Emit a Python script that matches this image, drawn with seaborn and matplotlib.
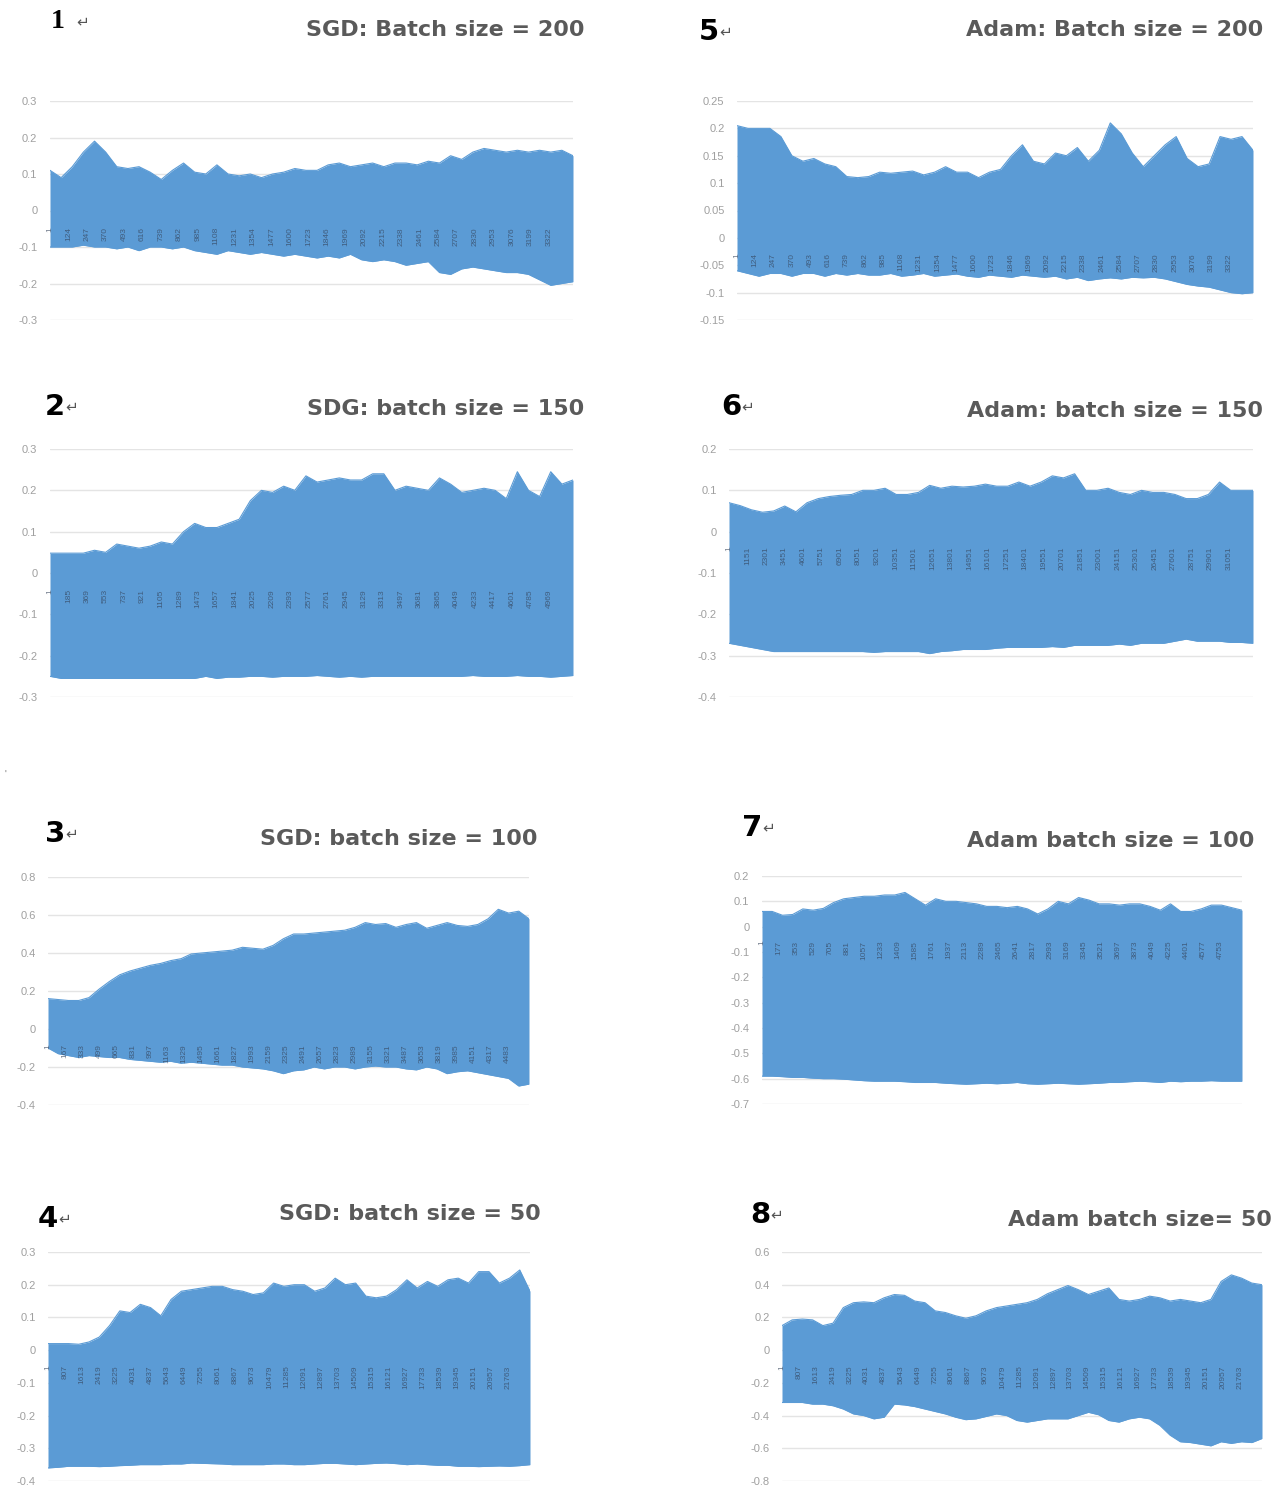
import numpy as np
import pandas as pd
import matplotlib
matplotlib.use("Agg")
import matplotlib.pyplot as plt
from matplotlib.ticker import FuncFormatter
import seaborn as sns

sns.set_theme(style="white")
plt.rcParams["font.family"] = ["Liberation Sans", "DejaVu Sans"]

W, H = 1279, 1487
BLUE = "#5b9bd5"

# upper / lower envelope of each (very dense) loss-difference series
sgd200_upper = [0.11, 0.09, 0.12, 0.16, 0.19, 0.16, 0.12, 0.115, 0.12, 0.105, 0.085, 0.11,
                0.13, 0.105, 0.10, 0.125, 0.10, 0.095, 0.10, 0.09, 0.10, 0.105, 0.115, 0.11,
                0.11, 0.125, 0.13, 0.12, 0.125, 0.13, 0.12, 0.13, 0.13, 0.125, 0.135, 0.13,
                0.15, 0.14, 0.16, 0.17, 0.165, 0.16, 0.165, 0.16, 0.165, 0.16, 0.165, 0.15]
sgd200_lower = [-0.10, -0.10, -0.10, -0.095, -0.10, -0.10, -0.105, -0.10, -0.11, -0.10, -0.10, -0.105,
                -0.10, -0.11, -0.115, -0.12, -0.11, -0.115, -0.12, -0.115, -0.12, -0.125, -0.12, -0.125,
                -0.13, -0.125, -0.13, -0.12, -0.135, -0.14, -0.135, -0.14, -0.15, -0.145, -0.14, -0.17,
                -0.175, -0.16, -0.155, -0.16, -0.165, -0.17, -0.17, -0.175, -0.19, -0.205, -0.20, -0.195]

sgd150_upper = [0.048, 0.048, 0.048, 0.048, 0.055, 0.05, 0.07, 0.065, 0.06, 0.065, 0.075, 0.07,
                0.10, 0.12, 0.11, 0.11, 0.12, 0.13, 0.175, 0.20, 0.195, 0.21, 0.20, 0.235,
                0.22, 0.225, 0.23, 0.225, 0.225, 0.24, 0.24, 0.20, 0.21, 0.205, 0.20, 0.23,
                0.215, 0.195, 0.20, 0.205, 0.20, 0.18, 0.245, 0.20, 0.185, 0.245, 0.215, 0.225]
sgd150_lower = [-0.25, -0.255, -0.255, -0.255, -0.255, -0.255, -0.255, -0.255, -0.255, -0.255, -0.255, -0.255,
                -0.255, -0.255, -0.25, -0.255, -0.252, -0.252, -0.25, -0.25, -0.252, -0.25, -0.25, -0.25,
                -0.248, -0.25, -0.252, -0.25, -0.252, -0.25, -0.25, -0.25, -0.25, -0.25, -0.25, -0.25,
                -0.25, -0.25, -0.248, -0.25, -0.25, -0.25, -0.248, -0.25, -0.25, -0.252, -0.25, -0.248]

sgd100_upper = [0.16, 0.155, 0.15, 0.15, 0.165, 0.21, 0.25, 0.285, 0.305, 0.32, 0.335, 0.345,
                0.36, 0.37, 0.395, 0.40, 0.405, 0.41, 0.415, 0.43, 0.425, 0.42, 0.44, 0.475,
                0.50, 0.50, 0.505, 0.51, 0.515, 0.52, 0.535, 0.56, 0.55, 0.555, 0.535, 0.55,
                0.56, 0.53, 0.545, 0.56, 0.545, 0.54, 0.55, 0.58, 0.63, 0.61, 0.62, 0.58]
sgd100_lower = [-0.10, -0.13, -0.14, -0.15, -0.14, -0.145, -0.15, -0.15, -0.16, -0.165, -0.17, -0.175,
                -0.17, -0.18, -0.175, -0.18, -0.185, -0.19, -0.19, -0.20, -0.205, -0.21, -0.22, -0.235,
                -0.22, -0.215, -0.20, -0.21, -0.20, -0.20, -0.21, -0.20, -0.195, -0.20, -0.20, -0.21,
                -0.215, -0.20, -0.21, -0.235, -0.225, -0.22, -0.23, -0.24, -0.25, -0.26, -0.30, -0.29]

sgd50_upper = [0.02, 0.02, 0.02, 0.018, 0.025, 0.04, 0.075, 0.12, 0.115, 0.14, 0.13, 0.105,
               0.155, 0.18, 0.185, 0.19, 0.195, 0.195, 0.185, 0.18, 0.17, 0.175, 0.205, 0.195,
               0.20, 0.20, 0.18, 0.19, 0.22, 0.20, 0.205, 0.165, 0.16, 0.165, 0.185, 0.215,
               0.19, 0.21, 0.195, 0.215, 0.22, 0.205, 0.24, 0.24, 0.205, 0.22, 0.245, 0.18]
sgd50_lower = [-0.36, -0.358, -0.355, -0.355, -0.355, -0.356, -0.355, -0.353, -0.352, -0.35, -0.35, -0.35,
               -0.348, -0.348, -0.345, -0.346, -0.347, -0.348, -0.35, -0.35, -0.35, -0.35, -0.348, -0.348,
               -0.35, -0.35, -0.348, -0.346, -0.346, -0.348, -0.35, -0.348, -0.346, -0.345, -0.347, -0.35,
               -0.348, -0.35, -0.352, -0.352, -0.355, -0.355, -0.356, -0.355, -0.354, -0.355, -0.353, -0.35]

adam200_upper = [0.205, 0.20, 0.20, 0.20, 0.185, 0.15, 0.14, 0.145, 0.135, 0.13, 0.112, 0.11,
                 0.112, 0.12, 0.118, 0.12, 0.122, 0.115, 0.12, 0.13, 0.12, 0.12, 0.11, 0.12,
                 0.125, 0.15, 0.17, 0.14, 0.135, 0.155, 0.15, 0.165, 0.14, 0.16, 0.21, 0.19,
                 0.155, 0.13, 0.15, 0.17, 0.185, 0.145, 0.13, 0.135, 0.185, 0.18, 0.185, 0.16]
adam200_lower = [-0.06, -0.065, -0.07, -0.065, -0.065, -0.07, -0.065, -0.065, -0.07, -0.065, -0.068, -0.065,
                 -0.068, -0.068, -0.065, -0.07, -0.068, -0.065, -0.07, -0.068, -0.066, -0.07, -0.072, -0.068,
                 -0.07, -0.072, -0.068, -0.07, -0.072, -0.07, -0.075, -0.072, -0.078, -0.075, -0.073, -0.075,
                 -0.072, -0.073, -0.072, -0.075, -0.08, -0.085, -0.088, -0.09, -0.095, -0.10, -0.102, -0.10]

adam150_upper = [0.07, 0.063, 0.053, 0.047, 0.05, 0.062, 0.048, 0.07, 0.08, 0.085, 0.088, 0.09,
                 0.10, 0.10, 0.105, 0.09, 0.09, 0.095, 0.112, 0.105, 0.11, 0.108, 0.11, 0.115,
                 0.11, 0.11, 0.12, 0.11, 0.12, 0.135, 0.13, 0.14, 0.10, 0.10, 0.105, 0.095,
                 0.09, 0.10, 0.095, 0.095, 0.09, 0.08, 0.08, 0.09, 0.12, 0.10, 0.10, 0.10]
adam150_lower = [-0.27, -0.275, -0.28, -0.285, -0.29, -0.29, -0.29, -0.29, -0.29, -0.29, -0.29, -0.29,
                 -0.29, -0.292, -0.29, -0.29, -0.29, -0.29, -0.295, -0.29, -0.288, -0.285, -0.285, -0.285,
                 -0.282, -0.28, -0.28, -0.28, -0.28, -0.278, -0.28, -0.275, -0.275, -0.275, -0.275, -0.272,
                 -0.275, -0.27, -0.27, -0.27, -0.265, -0.26, -0.265, -0.265, -0.265, -0.268, -0.268, -0.27]

adam100_upper = [0.06, 0.06, 0.045, 0.048, 0.07, 0.065, 0.072, 0.095, 0.11, 0.115, 0.12, 0.12,
                 0.125, 0.125, 0.135, 0.11, 0.085, 0.11, 0.10, 0.10, 0.095, 0.09, 0.08, 0.08,
                 0.075, 0.08, 0.07, 0.05, 0.07, 0.10, 0.09, 0.115, 0.105, 0.09, 0.09, 0.085,
                 0.09, 0.09, 0.08, 0.065, 0.09, 0.06, 0.06, 0.07, 0.085, 0.085, 0.075, 0.065]
adam100_lower = [-0.59, -0.59, -0.592, -0.595, -0.595, -0.598, -0.60, -0.60, -0.602, -0.605, -0.608, -0.61,
                 -0.61, -0.61, -0.612, -0.615, -0.615, -0.615, -0.618, -0.62, -0.622, -0.62, -0.618, -0.62,
                 -0.618, -0.615, -0.62, -0.622, -0.62, -0.618, -0.62, -0.622, -0.62, -0.618, -0.615, -0.615,
                 -0.612, -0.61, -0.612, -0.615, -0.61, -0.612, -0.61, -0.61, -0.608, -0.61, -0.61, -0.61]

adam50_upper = [0.15, 0.185, 0.19, 0.185, 0.15, 0.165, 0.26, 0.29, 0.295, 0.29, 0.32, 0.34,
                0.335, 0.30, 0.29, 0.24, 0.23, 0.21, 0.195, 0.21, 0.24, 0.26, 0.27, 0.28,
                0.29, 0.31, 0.345, 0.37, 0.395, 0.37, 0.34, 0.36, 0.38, 0.31, 0.30, 0.31,
                0.33, 0.32, 0.30, 0.31, 0.30, 0.29, 0.31, 0.42, 0.46, 0.44, 0.41, 0.40]
adam50_lower = [-0.32, -0.32, -0.32, -0.33, -0.33, -0.34, -0.36, -0.39, -0.40, -0.42, -0.41, -0.33,
                -0.335, -0.345, -0.36, -0.375, -0.39, -0.41, -0.425, -0.42, -0.405, -0.39, -0.40, -0.43,
                -0.44, -0.43, -0.42, -0.42, -0.42, -0.40, -0.38, -0.395, -0.43, -0.44, -0.42, -0.41,
                -0.42, -0.46, -0.52, -0.56, -0.565, -0.575, -0.585, -0.56, -0.57, -0.56, -0.565, -0.54]

# y-axis ticks of each chart
sgd200_yticks = [-0.3, -0.2, -0.1, 0, 0.1, 0.2, 0.3]
sgd150_yticks = [-0.3, -0.2, -0.1, 0, 0.1, 0.2, 0.3]
sgd100_yticks = [-0.4, -0.2, 0, 0.2, 0.4, 0.6, 0.8]
sgd50_yticks = [-0.4, -0.3, -0.2, -0.1, 0, 0.1, 0.2, 0.3]
adam200_yticks = [-0.15, -0.1, -0.05, 0, 0.05, 0.1, 0.15, 0.2, 0.25]
adam150_yticks = [-0.4, -0.3, -0.2, -0.1, 0, 0.1, 0.2]
adam100_yticks = [-0.7, -0.6, -0.5, -0.4, -0.3, -0.2, -0.1, 0, 0.1, 0.2]
adam50_yticks = [-0.8, -0.6, -0.4, -0.2, 0, 0.2, 0.4, 0.6]

# category-axis label interval (iterations between shown labels)
label_steps = {"sgd200": 123, "sgd150": 184, "sgd100": 166, "sgd50": 806,
               "adam200": 123, "adam150": 1150, "adam100": 176, "adam50": 806}

# layout: plot box in px (x0, y0, x1, y1), title anchor, number anchor, axis-line level
panels = [
    dict(key="sgd200", num="1", title="SGD: Batch size = 200", up=sgd200_upper, lo=sgd200_lower,
         yt=sgd200_yticks, box=(50, 101, 573, 320), tpos=(585, 30), npos=(58, 22), axy=-0.04, serif=True),
    dict(key="sgd150", num="2", title="SDG: batch size = 150", up=sgd150_upper, lo=sgd150_lower,
         yt=sgd150_yticks, box=(50, 449, 573, 697), tpos=(584, 409), npos=(55, 407), axy=-0.034),
    dict(key="sgd100", num="3", title="SGD: batch size = 100", up=sgd100_upper, lo=sgd100_lower,
         yt=sgd100_yticks, box=(48, 877, 529, 1105), tpos=(538, 839), npos=(55, 834), axy=-0.07),
    dict(key="sgd50", num="4", title="SGD: batch size = 50", up=sgd50_upper, lo=sgd50_lower,
         yt=sgd50_yticks, box=(48, 1252, 530, 1481), tpos=(541, 1214), npos=(48, 1219), axy=-0.04),
    dict(key="adam200", num="5", title="Adam: Batch size = 200", up=adam200_upper, lo=adam200_lower,
         yt=adam200_yticks, box=(737, 101, 1253, 320), tpos=(1263, 30), npos=(709, 32), axy=-0.024),
    dict(key="adam150", num="6", title="Adam: batch size = 150", up=adam150_upper, lo=adam150_lower,
         yt=adam150_yticks, box=(729, 449, 1253, 697), tpos=(1263, 411), npos=(731, 407), axy=-0.031),
    dict(key="adam100", num="7", title="Adam batch size = 100", up=adam100_upper, lo=adam100_lower,
         yt=adam100_yticks, box=(762, 876, 1242, 1104), tpos=(1254, 841), npos=(752, 828), axy=-0.047),
    dict(key="adam50", num="8", title="Adam batch size= 50", up=adam50_upper, lo=adam50_lower,
         yt=adam50_yticks, box=(782, 1252, 1262, 1481), tpos=(1272, 1220), npos=(760, 1215), axy=-0.08),
]

fig = plt.figure(figsize=(W / 100, H / 100), dpi=100)
fig.patch.set_facecolor("white")

for p in panels:
    x0, y0, x1, y1 = p["box"]
    ax = fig.add_axes([x0 / W, 1 - y1 / H, (x1 - x0) / W, (y1 - y0) / H])
    step = label_steps[p["key"]]
    n_iter = 1 + step * 28.3
    df = pd.DataFrame({
        "iteration": np.linspace(1, n_iter, len(p["up"])),
        "upper": p["up"],
        "lower": p["lo"],
    })
    yt = p["yt"]
    # light horizontal gridlines behind the band
    for v in yt:
        ax.axhline(v, color="#e4e4e4", lw=1, zorder=0.5)
    ax.fill_between(df["iteration"], df["lower"], df["upper"], color=BLUE, lw=0, zorder=1)
    sns.lineplot(data=df, x="iteration", y="upper", color=BLUE, lw=0.8, ax=ax, zorder=1)
    sns.lineplot(data=df, x="iteration", y="lower", color=BLUE, lw=0.8, ax=ax, zorder=1)

    ax.set_xlim(1, n_iter)
    ax.set_ylim(yt[0], yt[-1])
    ax.set_yticks(yt)
    ax.yaxis.set_major_formatter(FuncFormatter(lambda v, _: f"{v:g}"))
    ax.grid(False)
    ax.set_axisbelow(False)
    for s in ["top", "right", "left"]:
        ax.spines[s].set_visible(False)
    ax.spines["bottom"].set_position(("data", p["axy"]))
    ax.spines["bottom"].set_linewidth(0)

    # category labels, printed vertically over the band as Excel does
    ticks = [1 + k * step for k in range(28)]
    ax.set_xticks(ticks)
    ax.set_xticklabels([str(t) for t in ticks], rotation=90, fontsize=6,
                       color="#34435a", alpha=0.7)
    ax.tick_params(axis="x", length=0, pad=1.5)
    ax.tick_params(axis="y", length=0, pad=9, labelsize=8, labelcolor="#a0a0a0")
    ax.set_xlabel("")
    ax.set_ylabel("")
    ax.patch.set_alpha(0)

    tx, ty = p["tpos"]
    fig.text(tx / W, 1 - ty / H, p["title"], ha="right", va="center", fontsize=16,
             fontweight="bold", family=["DejaVu Sans"], color="#5a5a5a")
    nx, ny = p["npos"]
    if p.get("serif"):
        fig.text(nx / W, 1 - ny / H, p["num"], ha="center", va="center", fontsize=20,
                 fontweight="bold", family=["Liberation Serif", "DejaVu Serif"], color="black")
        fig.text((nx + 25) / W, 1 - ny / H, "\u21b5", ha="center", va="center",
                 fontsize=11, family=["DejaVu Sans"], color="#555555")
    else:
        fig.text(nx / W, 1 - ny / H, p["num"], ha="center", va="center", fontsize=21,
                 fontweight="heavy", family=["DejaVu Sans"], color="black")
        fig.text((nx + 17) / W, 1 - ny / H, "\u21b5", ha="center", va="center",
                 fontsize=11, family=["DejaVu Sans"], color="#555555")

fig.text(5 / W, 1 - 775 / H, "'", ha="center", va="center", fontsize=7, color="#777777")

fig.savefig("out.png", dpi=100, facecolor="white")
